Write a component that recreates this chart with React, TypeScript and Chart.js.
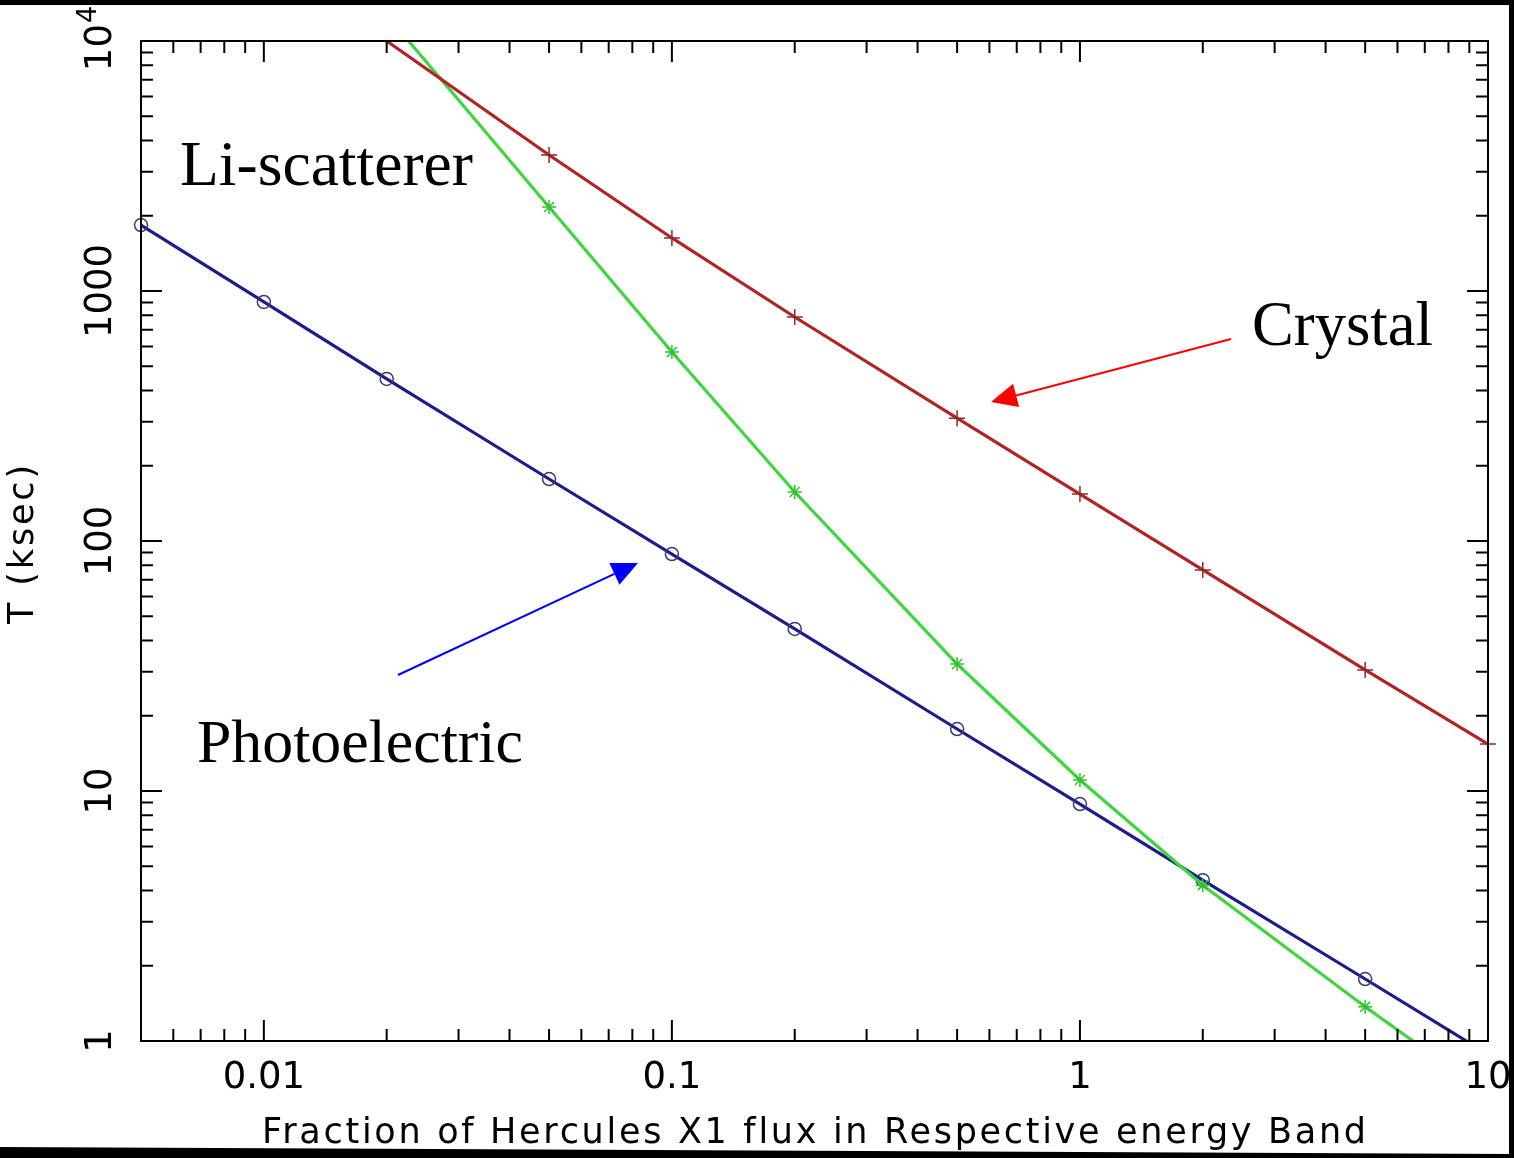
import React, { useEffect, useRef } from "react";
import { Chart, registerables } from "chart.js";

Chart.register(...registerables);

// ---- Data ----
const fractions = [0.005, 0.01, 0.02, 0.05, 0.1, 0.2, 0.5, 1, 2, 5, 10];
const photoelectricT: (number | null)[] = [1836, 904, 445, 177, 88.7, 44.5, 17.7, 8.87, 4.4, 1.77, 0.885];
const crystalT: (number | null)[] = [null, null, 10000, 3500, 1630, 787, 310, 154, 76.6, 30.5, 15.4];
const liScattererT: (number | null)[] = [null, null, 12700, 2168, 570, 157, 32.2, 11.07, 4.2, 1.37, 0.61];

const xMajorTicks = [0.01, 0.1, 1, 10];
const xTickLabels = ["0.01", "0.1", "1", "10"];
const yMajorTicks = [1, 10, 100, 1000, 10000];
const yTickLabels = ["1", "10", "100", "1000", "10^4"];

const xTitle = "Fraction of Hercules X1 flux in Respective energy Band";
const yTitle = "T (ksec)";

// annotations: label text, and arrows in data coordinates
const annotationLabels = ["Li-scatterer", "Crystal", "Photoelectric"];
const crystalArrow = { from: [2.346, 642.7], to: [0.6053, 359.7] };
const photoArrow = { from: [0.02132, 29.1], to: [0.08258, 81.7] };

const X_MIN = 0.005, X_MAX = 10, Y_MIN = 1, Y_MAX = 10000;

function toPoints(values: (number | null)[]) {
  const pts: { x: number; y: number }[] = [];
  values.forEach((v, i) => {
    if (v !== null) pts.push({ x: fractions[i], y: v });
  });
  return pts;
}
function radii(values: (number | null)[], r: number) {
  return values
    .filter((v) => v !== null)
    .map((v) => ((v as number) >= Y_MAX || (v as number) < Y_MIN ? 0 : r));
}

function minorTicks(min: number, max: number, majors: number[]) {
  const out: number[] = [];
  for (let d = -4; d <= 5; d++) {
    for (let m = 2; m <= 9; m++) {
      const v = m * Math.pow(10, d);
      if (v >= min * 0.999 && v <= max * 1.001 && !majors.some((M) => Math.abs(M - v) / v < 1e-6)) out.push(v);
    }
  }
  return out;
}

const AXIS_FONT = "'DejaVu Sans'";
const AXIS_W = "normal";
const TICK_SIZE = 37;
const SERIF = "'Liberation Serif', 'Times New Roman', serif";

function fitFont(ctx: CanvasRenderingContext2D, text: string, family: string, width: number, base: number, weight = "normal") {
  ctx.font = `${weight} ${base}px ${family}`;
  const w = ctx.measureText(text).width;
  const size = (base * width) / w;
  ctx.font = `${weight} ${size}px ${family}`;
  return size;
}

const decorPlugin = {
  id: "decor",
  afterDraw(chart: any) {
    const ctx: CanvasRenderingContext2D = chart.ctx;
    const xs = chart.scales.x;
    const ys = chart.scales.y;
    const { left, right, top, bottom } = chart.chartArea;
    ctx.save();

    // frame
    ctx.strokeStyle = "#000";
    ctx.lineWidth = 2;
    ctx.strokeRect(left, top, right - left, bottom - top);

    // ticks
    const majLen = 21, minLen = 12;
    ctx.beginPath();
    const xMin = minorTicks(X_MIN, X_MAX, xMajorTicks);
    xMajorTicks.forEach((v) => {
      const p = xs.getPixelForValue(v);
      ctx.moveTo(p, bottom); ctx.lineTo(p, bottom - majLen);
      ctx.moveTo(p, top); ctx.lineTo(p, top + majLen);
    });
    xMin.forEach((v) => {
      const p = xs.getPixelForValue(v);
      ctx.moveTo(p, bottom); ctx.lineTo(p, bottom - minLen);
      ctx.moveTo(p, top); ctx.lineTo(p, top + minLen);
    });
    const yMin = minorTicks(Y_MIN, Y_MAX, yMajorTicks);
    yMajorTicks.forEach((v) => {
      const p = ys.getPixelForValue(v);
      ctx.moveTo(left, p); ctx.lineTo(left + majLen, p);
      ctx.moveTo(right, p); ctx.lineTo(right - majLen, p);
    });
    yMin.forEach((v) => {
      const p = ys.getPixelForValue(v);
      ctx.moveTo(left, p); ctx.lineTo(left + minLen, p);
      ctx.moveTo(right, p); ctx.lineTo(right - minLen, p);
    });
    ctx.stroke();

    // x tick labels
    ctx.fillStyle = "#000";
    ctx.font = `${AXIS_W} ${TICK_SIZE}px ${AXIS_FONT}`;
    ctx.textAlign = "center";
    ctx.textBaseline = "middle";
    xMajorTicks.forEach((v, i) => {
      ctx.fillText(xTickLabels[i], xs.getPixelForValue(v), 1078);
    });

    // y tick labels (rotated)
    yMajorTicks.forEach((v, i) => {
      const p = ys.getPixelForValue(v);
      ctx.save();
      ctx.translate(101, p);
      ctx.rotate(-Math.PI / 2);
      const lab = yTickLabels[i];
      if (lab.includes("^")) {
        const [base, exp] = lab.split("^");
        ctx.font = `${AXIS_W} ${TICK_SIZE}px ${AXIS_FONT}`;
        const wb = ctx.measureText(base).width;
        ctx.font = `${AXIS_W} 27px ${AXIS_FONT}`;
        const we = ctx.measureText(exp).width;
        const start = -(wb + we) / 2 + 2;
        ctx.textAlign = "left";
        ctx.font = `${AXIS_W} ${TICK_SIZE}px ${AXIS_FONT}`;
        ctx.fillText(base, start, 0);
        ctx.font = `${AXIS_W} 27px ${AXIS_FONT}`;
        ctx.fillText(exp, start + wb + 1, -12);
      } else {
        ctx.font = `${AXIS_W} ${TICK_SIZE}px ${AXIS_FONT}`;
        ctx.textAlign = "center";
        ctx.fillText(lab, 0, 0);
      }
      ctx.restore();
    });

    // x title
    ctx.font = `${AXIS_W} 35px ${AXIS_FONT}`;
    ctx.textAlign = "left";
    ctx.textBaseline = "alphabetic";
    (ctx as any).letterSpacing = "0px";
    const w0 = ctx.measureText(xTitle).width;
    const ls = (1104 - w0) / (xTitle.length - 1);
    (ctx as any).letterSpacing = `${ls}px`;
    ctx.fillText(xTitle, 262, 1143);
    (ctx as any).letterSpacing = "0px";

    // y title
    ctx.save();
    ctx.translate(24, 543);
    ctx.rotate(-Math.PI / 2);
    ctx.font = `${AXIS_W} 35px ${AXIS_FONT}`;
    const wy = ctx.measureText(yTitle).width;
    (ctx as any).letterSpacing = `${(159 - wy) / (yTitle.length - 1)}px`;
    ctx.textAlign = "center";
    ctx.textBaseline = "middle";
    ctx.fillText(yTitle, 0, 0);
    (ctx as any).letterSpacing = "0px";
    ctx.restore();

    // annotation labels
    ctx.textAlign = "left";
    ctx.textBaseline = "alphabetic";
    fitFont(ctx, annotationLabels[0], SERIF, 293, 64);
    ctx.fillText(annotationLabels[0], 180, 185);
    fitFont(ctx, annotationLabels[1], SERIF, 181, 64);
    ctx.fillText(annotationLabels[1], 1252, 345);
    fitFont(ctx, annotationLabels[2], SERIF, 326, 64);
    ctx.fillText(annotationLabels[2], 197, 762);

    // arrows
    const drawArrow = (a: { from: number[]; to: number[] }, color: string) => {
      const x1 = xs.getPixelForValue(a.from[0]);
      const y1 = ys.getPixelForValue(a.from[1]);
      const x2 = xs.getPixelForValue(a.to[0]);
      const y2 = ys.getPixelForValue(a.to[1]);
      const ang = Math.atan2(y2 - y1, x2 - x1);
      const hl = 26, hw = 12;
      const bx = x2 - hl * Math.cos(ang);
      const by = y2 - hl * Math.sin(ang);
      ctx.strokeStyle = color;
      ctx.fillStyle = color;
      ctx.lineWidth = 2;
      ctx.beginPath();
      ctx.moveTo(x1, y1);
      ctx.lineTo(bx, by);
      ctx.stroke();
      ctx.beginPath();
      ctx.moveTo(x2, y2);
      ctx.lineTo(bx + hw * Math.sin(ang), by - hw * Math.cos(ang));
      ctx.lineTo(bx - hw * Math.sin(ang), by + hw * Math.cos(ang));
      ctx.closePath();
      ctx.fill();
    };
    drawArrow(crystalArrow, "#ff0000");
    drawArrow(photoArrow, "#0000ff");

    // picture border
    ctx.fillStyle = "#000";
    const W = chart.width, H = chart.height;
    ctx.fillRect(0, 0, W, 5);
    ctx.fillRect(W - 5, 0, 5, H);
    ctx.beginPath();
    ctx.moveTo(0, 1147);
    ctx.lineTo(W, 1154);
    ctx.lineTo(W, H);
    ctx.lineTo(0, H);
    ctx.closePath();
    ctx.fill();

    ctx.restore();
  },
};

export default function App() {
  const ref = useRef<HTMLCanvasElement>(null);
  useEffect(() => {
    document.body.style.margin = "0";
    const canvas = ref.current!;
    const chart = new Chart(canvas, {
      type: "scatter",
      data: {
        datasets: [
          {
            label: "Crystal",
            data: toPoints(crystalT),
            showLine: true,
            borderColor: "#b22424",
            borderWidth: 3.2,
            pointStyle: "cross",
            pointRadius: radii(crystalT, 8),
            pointBorderColor: "#8c2b2b",
            pointBorderWidth: 1.5,
            pointBackgroundColor: "rgba(0,0,0,0)",
            clip: { left: 0, top: 0, right: 12, bottom: 0 },
          },
          {
            label: "Li-scatterer",
            data: toPoints(liScattererT),
            showLine: true,
            borderColor: "#3fd63f",
            borderWidth: 3.2,
            pointStyle: "star",
            pointRadius: radii(liScattererT, 7),
            pointBorderColor: "#2fc22f",
            pointBorderWidth: 1.5,
            pointBackgroundColor: "rgba(0,0,0,0)",
            clip: 0,
          },
          {
            label: "Photoelectric",
            data: toPoints(photoelectricT),
            showLine: true,
            borderColor: "#1c1c8c",
            borderWidth: 3.2,
            pointStyle: "circle",
            pointRadius: radii(photoelectricT, 6.5),
            pointBorderColor: "#3a3a70",
            pointBorderWidth: 1.5,
            pointBackgroundColor: "rgba(0,0,0,0)",
            clip: { left: 12, top: 0, right: 0, bottom: 0 },
          },
        ],
      } as any,
      options: {
        responsive: false,
        animation: false,
        devicePixelRatio: 1,
        layout: { padding: { left: 141, top: 41, right: 26, bottom: 117 } },
        plugins: { legend: { display: false }, tooltip: { enabled: false } },
        scales: {
          x: { type: "logarithmic", min: X_MIN, max: X_MAX, display: false },
          y: { type: "logarithmic", min: Y_MIN, max: Y_MAX, display: false },
        },
      } as any,
      plugins: [decorPlugin],
    });
    return () => chart.destroy();
  }, []);
  return (
    <div style={{ width: 1514, height: 1158 }}>
      <canvas ref={ref} width={1514} height={1158} style={{ display: "block" }} />
    </div>
  );
}
